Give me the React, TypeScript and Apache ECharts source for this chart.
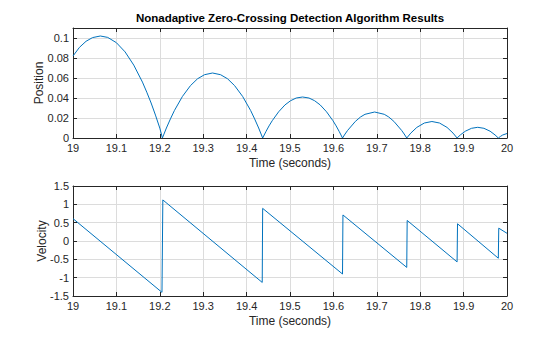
import React, { useEffect, useRef } from "react";
import * as echarts from "echarts";

const titleText = "Nonadaptive Zero-Crossing Detection Algorithm Results";
const xLabel = "Time (seconds)";

// Position
const posTime = [
  19.0, 19.015, 19.03, 19.045, 19.063, 19.08, 19.1, 19.12, 19.14, 19.16, 19.17, 19.18, 19.19, 19.2, 19.206,
  19.2152, 19.2245, 19.2337, 19.2522, 19.2707, 19.2869, 19.303, 19.3215, 19.34, 19.3562, 19.3723, 19.3908, 19.4093, 19.4185, 19.4278, 19.437,
  19.4444, 19.4517, 19.4591, 19.4738, 19.4885, 19.5014, 19.5143, 19.529, 19.5437, 19.5566, 19.5695, 19.5842, 19.5989, 19.6063, 19.6136, 19.621,
  19.6269, 19.6328, 19.6506, 19.6624, 19.6728, 19.695, 19.7172, 19.7276, 19.7394, 19.7572, 19.7631, 19.769,
  19.7783, 19.7922, 19.8096, 19.827, 19.8444, 19.8618, 19.8757, 19.885,
  19.8926, 19.904, 19.9183, 19.9325, 19.9468, 19.961, 19.9724, 19.98,
  19.985, 19.99, 20.0,
];
const posValue = [
  0.082, 0.0907, 0.0967, 0.1004, 0.102, 0.1006, 0.0953, 0.0861, 0.0729, 0.0559, 0.0458, 0.035, 0.0229, 0.0099, 0,
  0.01, 0.0191, 0.0275, 0.0416, 0.0524, 0.0592, 0.0633, 0.065, 0.0633, 0.0592, 0.0524, 0.0416, 0.0275, 0.0191, 0.01, 0,
  0.0063, 0.0121, 0.0173, 0.0262, 0.0331, 0.0373, 0.04, 0.041, 0.04, 0.0373, 0.0331, 0.0262, 0.0173, 0.0121, 0.0063, 0,
  0.004, 0.0076, 0.0166, 0.021, 0.0237, 0.026, 0.0237, 0.021, 0.0166, 0.0076, 0.004, 0,
  0.0049, 0.0106, 0.015, 0.0165, 0.015, 0.0106, 0.0049, 0,
  0.0031, 0.0068, 0.0097, 0.0107, 0.0097, 0.0068, 0.0031, 0,
  0.0016, 0.003, 0.0045,
];

// Velocity
const velTime = [
  19.0, 19.205, 19.207, 19.436, 19.437, 19.621, 19.622, 19.769, 19.77,
  19.885, 19.886, 19.98, 19.981, 20.0,
];
const velValue = [
  0.61, -1.4, 1.12, -1.13, 0.89, -0.9, 0.71, -0.72, 0.56,
  -0.57, 0.47, -0.47, 0.35, 0.21,
];

const posTicks = { min: 0, max: 0.11, interval: 0.02 };
const velTicks = { min: -1.5, max: 1.5, interval: 0.5 };
const timeTicks = { min: 19, max: 20, interval: 0.1 };

const TXT = "#262626";
const FONT = "Liberation Sans, Arial, Helvetica, sans-serif";
const LINE = "#0072BD";
const GRIDC = "#dcdcdc";

function mainX(gridIndex: number) {
  return {
    type: "value",
    gridIndex,
    position: "bottom",
    ...timeTicks,
    name: xLabel,
    nameLocation: "middle",
    nameGap: 19,
    nameMoveOverlap: false,
    nameTextStyle: { color: TXT, fontSize: 12, fontFamily: FONT },
    axisLine: { show: true, onZero: false, lineStyle: { color: TXT, width: 1 } },
    axisTick: { show: true, inside: true, length: 4, lineStyle: { color: TXT } },
    axisLabel: { color: TXT, fontSize: 11, fontFamily: FONT, margin: 4 },
    splitLine: { show: true, lineStyle: { color: GRIDC, width: 1 } },
  };
}
function topX(gridIndex: number) {
  return {
    type: "value",
    gridIndex,
    position: "top",
    ...timeTicks,
    axisLine: { show: true, onZero: false, lineStyle: { color: TXT, width: 1 } },
    axisTick: { show: true, inside: true, length: 4, lineStyle: { color: TXT } },
    axisLabel: { show: false },
    splitLine: { show: false },
  };
}
function mainY(gridIndex: number, ticks: any, name: string, gap: number, hideMax: boolean) {
  return {
    type: "value",
    gridIndex,
    position: "left",
    ...ticks,
    name,
    nameLocation: "middle",
    nameGap: gap,
    nameMoveOverlap: false,
    nameTextStyle: { color: TXT, fontSize: 12, fontFamily: FONT },
    axisLine: { show: true, onZero: false, lineStyle: { color: TXT, width: 1 } },
    axisTick: { show: true, inside: true, length: 4, lineStyle: { color: TXT } },
    axisLabel: { color: TXT, fontSize: 11, fontFamily: FONT, margin: 4, showMaxLabel: !hideMax },
    splitLine: { show: true, lineStyle: { color: GRIDC, width: 1 } },
  };
}
function rightY(gridIndex: number, ticks: any) {
  return {
    type: "value",
    gridIndex,
    position: "right",
    ...ticks,
    axisLine: { show: true, onZero: false, lineStyle: { color: TXT, width: 1 } },
    axisTick: { show: true, inside: true, length: 4, lineStyle: { color: TXT } },
    axisLabel: { show: false },
    splitLine: { show: false },
  };
}

export default function App() {
  const ref = useRef<HTMLDivElement>(null);
  useEffect(() => {
    if (!ref.current) return;
    const chart = echarts.init(ref.current, null, { renderer: "svg" });
    const posData = posTime.map((t, i) => [t, posValue[i]]);
    const velData = velTime.map((t, i) => [t, velValue[i]]);
    chart.setOption({
      animation: false,
      backgroundColor: "#ffffff",
      grid: [
        { left: 73, top: 28, width: 434, height: 110, containLabel: false },
        { left: 73, top: 186, width: 434, height: 110, containLabel: false },
      ],
      xAxis: [mainX(0), topX(0), mainX(1), topX(1)],
      yAxis: [
        mainY(0, posTicks, "Position", 28, true),
        rightY(0, posTicks),
        mainY(1, velTicks, "Velocity", 25, false),
        rightY(1, velTicks),
      ],
      graphic: [
        {
          type: "text",
          x: 290,
          y: 12,
          style: {
            text: titleText,
            textAlign: "center",
            fill: "#000000",
            font: `bold 11.5px ${FONT}`,
          },
        },
      ],
      series: [
        {
          type: "line",
          xAxisIndex: 0,
          yAxisIndex: 0,
          data: posData,
          showSymbol: false,
          symbol: "none",
          lineStyle: { color: LINE, width: 1 },
          z: 3,
        },
        {
          type: "line",
          xAxisIndex: 2,
          yAxisIndex: 2,
          data: velData,
          showSymbol: false,
          symbol: "none",
          lineStyle: { color: LINE, width: 1 },
          z: 3,
        },
      ],
    });
    return () => chart.dispose();
  }, []);
  return (
    <div
      ref={ref}
      style={{ position: "fixed", left: 0, top: 0, width: 560, height: 337, background: "#fff" }}
    />
  );
}
